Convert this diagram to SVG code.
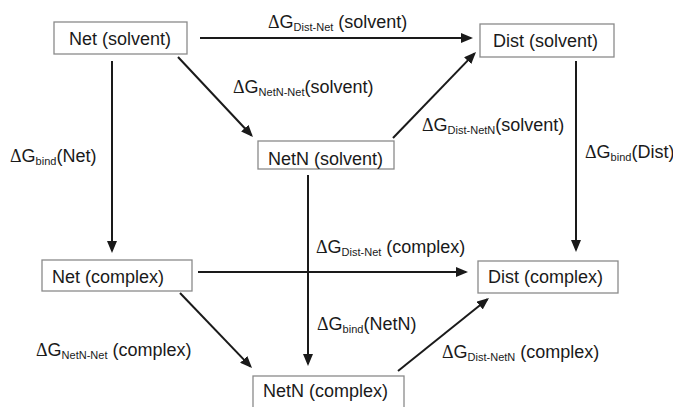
<svg xmlns="http://www.w3.org/2000/svg" width="673" height="407" viewBox="0 0 673 407">
<defs>
<style>
.box{fill:#fff;stroke:#8a8a8a;stroke-width:1.3}
.t{font-family:"Liberation Sans",Arial,sans-serif;font-size:18px;fill:#1a1a1a}
.d{font-family:"Liberation Serif","Times New Roman",serif}
.s{font-size:11px}
.c{fill:none;stroke:#1a1a1a;stroke-width:2}
</style>
<marker id="ah" markerUnits="userSpaceOnUse" markerWidth="12" markerHeight="10" refX="10" refY="5" orient="auto">
<path d="M0,0 L12,5 L0,10 z" fill="#1a1a1a"/>
</marker>
</defs>
<rect width="673" height="407" fill="#fff"/>
<g id="connectors">
<line class="c" x1="200" y1="38" x2="471" y2="38" marker-end="url(#ah)"/>
<line class="c" x1="178" y1="57" x2="251.6" y2="135.5" marker-end="url(#ah)"/>
<line class="c" x1="393" y1="138" x2="474.6" y2="53.4" marker-end="url(#ah)"/>
<line class="c" x1="112" y1="61" x2="112" y2="251" marker-end="url(#ah)"/>
<line class="c" x1="308" y1="175" x2="308" y2="364" marker-end="url(#ah)"/>
<line class="c" x1="576" y1="61" x2="576" y2="250" marker-end="url(#ah)"/>
<line class="c" x1="198" y1="272" x2="466" y2="272" marker-end="url(#ah)"/>
<line class="c" x1="180" y1="293" x2="250.6" y2="366.6" marker-end="url(#ah)"/>
<line class="c" x1="398" y1="371" x2="487.4" y2="299.3" marker-end="url(#ah)"/>
</g>
<g id="labels">
<text class="t" x="268" y="28"><tspan class="d">Δ</tspan>G<tspan class="s" dy="3">Dist-Net</tspan><tspan dy="-3"> (solvent)</tspan></text>
<text class="t" x="233" y="93"><tspan class="d">Δ</tspan>G<tspan class="s" dy="3">NetN-Net</tspan><tspan dy="-3">(solvent)</tspan></text>
<text class="t" x="10" y="162"><tspan class="d">Δ</tspan>G<tspan class="s" dy="3">bind</tspan><tspan dy="-3">(Net)</tspan></text>
<text class="t" x="422" y="131"><tspan class="d">Δ</tspan>G<tspan class="s" dy="3">Dist-NetN</tspan><tspan dy="-3">(solvent)</tspan></text>
<text class="t" x="585" y="158"><tspan class="d">Δ</tspan>G<tspan class="s" dy="3">bind</tspan><tspan dy="-3">(Dist)</tspan></text>
<text class="t" x="316" y="253"><tspan class="d">Δ</tspan>G<tspan class="s" dy="3">Dist-Net</tspan><tspan dy="-3"> (complex)</tspan></text>
<text class="t" x="317" y="330"><tspan class="d">Δ</tspan>G<tspan class="s" dy="3">bind</tspan><tspan dy="-3">(NetN)</tspan></text>
<text class="t" x="36" y="356"><tspan class="d">Δ</tspan>G<tspan class="s" dy="3">NetN-Net</tspan><tspan dy="-3"> (complex)</tspan></text>
<text class="t" x="442" y="358"><tspan class="d">Δ</tspan>G<tspan class="s" dy="3">Dist-NetN</tspan><tspan dy="-3"> (complex)</tspan></text>
</g>
<g id="net-solvent">
<rect class="box" x="54" y="22" width="133" height="32"/>
<text class="t" x="69" y="45">Net (solvent)</text>
</g>
<g id="dist-solvent">
<rect class="box" x="480" y="24" width="134" height="33"/>
<text class="t" x="493" y="47">Dist (solvent)</text>
</g>
<g id="netn-solvent">
<rect class="box" x="258" y="141" width="136" height="28"/>
<text class="t" x="268" y="165">NetN (solvent)</text>
</g>
<g id="net-complex">
<rect class="box" x="42" y="260" width="150" height="31"/>
<text class="t" x="52" y="283">Net (complex)</text>
</g>
<g id="dist-complex">
<rect class="box" x="478" y="261" width="140" height="32"/>
<text class="t" x="488" y="283">Dist (complex)</text>
</g>
<g id="netn-complex">
<rect class="box" x="253" y="376" width="151" height="40"/>
<text class="t" x="263" y="397">NetN (complex)</text>
</g>
</svg>
